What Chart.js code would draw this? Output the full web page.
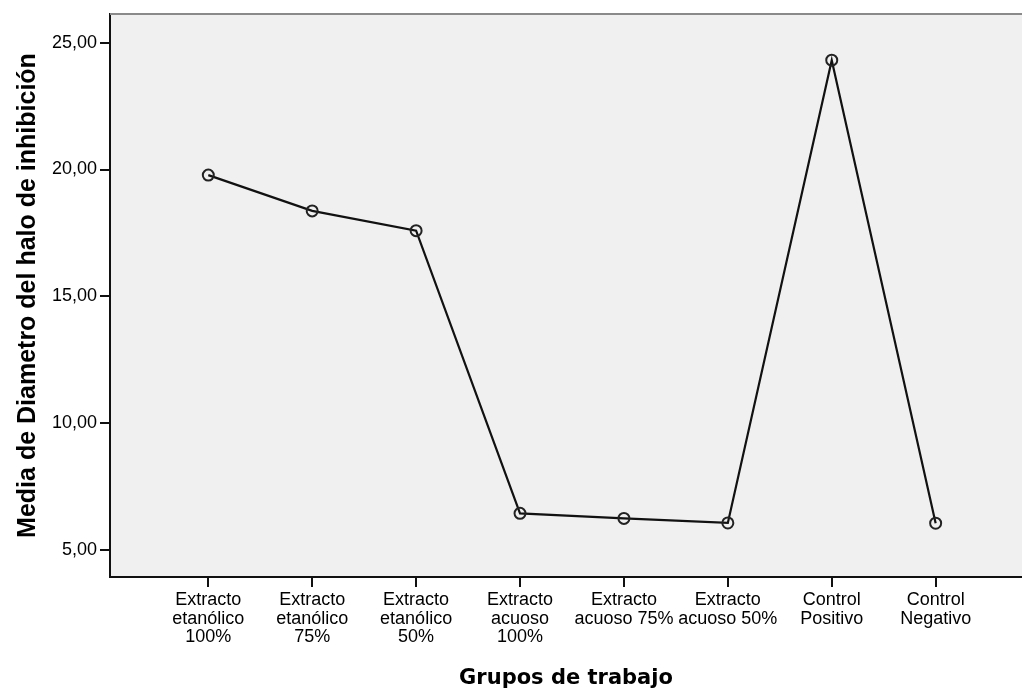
<!DOCTYPE html>
<html><head><meta charset="utf-8">
<script src="https://cdn.jsdelivr.net/npm/chart.js@4/dist/chart.umd.min.js"></script>
<style>html,body{margin:0;padding:0;background:#fff}#wrap{width:1022px;height:691px}</style>
</head><body><div id="wrap"><canvas id="c" width="1022" height="691"></canvas></div>
<script>
const categories = [
  ["Extracto","etanólico","100%"],
  ["Extracto","etanólico","75%"],
  ["Extracto","etanólico","50%"],
  ["Extracto","acuoso","100%"],
  ["Extracto","acuoso 75%"],
  ["Extracto","acuoso 50%"],
  ["Control","Positivo"],
  ["Control","Negativo"]
];
const values = [19.78, 18.37, 17.59, 6.45, 6.25, 6.07, 24.31, 6.06];
const yTickValues = [5, 10, 15, 20, 25];
const yTitle = "Media de Diametro del halo de inhibición";
const xTitle = "Grupos de trabajo";

const bgPlugin = {
  id: 'bgPlugin',
  beforeDraw(chart) {
    const {ctx, chartArea: a} = chart;
    ctx.save();
    ctx.fillStyle = '#f0f0f0';
    ctx.fillRect(a.left, a.top, a.right - a.left, a.bottom - a.top);
    ctx.restore();
  },
  afterDraw(chart) {
    const {ctx, chartArea: a} = chart;
    ctx.save();
    ctx.strokeStyle = '#8a8a8a';
    ctx.lineWidth = 2;
    ctx.beginPath();
    ctx.moveTo(a.left, a.top);
    ctx.lineTo(chart.width, a.top);
    ctx.stroke();
    ctx.restore();
  }
};

new Chart(document.getElementById('c'), {
  type: 'line',
  data: {
    datasets: [{
      data: values.map((v, i) => ({x: i, y: v})),
      borderColor: '#111',
      borderWidth: 2.2,
      pointRadius: 5.5,
      pointBorderColor: '#222',
      pointBorderWidth: 2,
      pointBackgroundColor: 'rgba(0,0,0,0)',
      tension: 0,
      fill: false
    }]
  },
  options: {
    responsive: false,
    animation: false,
    devicePixelRatio: 1,
    layout: {autoPadding: false, padding: {top: 14, right: 0, left: 0, bottom: 0}},
    plugins: {legend: {display: false}, tooltip: {enabled: false}},
    scales: {
      x: {
        type: 'linear',
        min: -0.946,
        max: 7.831,
        afterBuildTicks: s => { s.ticks = categories.map((_, i) => ({value: i})); },
        afterFit: s => { s.height = 114; s.paddingLeft = 0; s.paddingRight = 0; },
        ticks: {
          autoSkip: false,
          maxRotation: 0,
          padding: 4,
          color: '#000',
          font: {family: '"Liberation Sans", Arial, sans-serif', size: 18, lineHeight: 1.02},
          callback: (v) => categories[v]
        },
        grid: {drawOnChartArea: false, drawTicks: true, tickLength: 10, color: '#111', lineWidth: 2},
        border: {display: true, color: '#111', width: 2},
        title: {
          display: true, text: xTitle, color: '#000',
          font: {family: '"DejaVu Sans", sans-serif', size: 21, weight: 'bold', lineHeight: 1.2},
          padding: {top: 2, bottom: 0}
        }
      },
      y: {
        min: 3.94,
        max: 26.13,
        afterBuildTicks: s => { s.ticks = yTickValues.map(v => ({value: v})); },
        afterFit: s => { s.width = 110; s.paddingTop = 0; s.paddingBottom = 0; },
        ticks: {
          padding: 3,
          color: '#000',
          font: {family: '"Liberation Sans", Arial, sans-serif', size: 18},
          callback: v => v.toFixed(2).replace('.', ',')
        },
        grid: {drawOnChartArea: false, drawTicks: true, tickLength: 10, color: '#111', lineWidth: 2},
        border: {display: true, color: '#111', width: 2},
        title: {
          display: true, text: yTitle, color: '#000',
          font: {family: '"Liberation Sans", Arial, sans-serif', size: 25, weight: 'bold', lineHeight: 1.2},
          padding: {top: 13, bottom: 0}
        }
      }
    }
  },
  plugins: [bgPlugin]
});
</script>
</body></html>
